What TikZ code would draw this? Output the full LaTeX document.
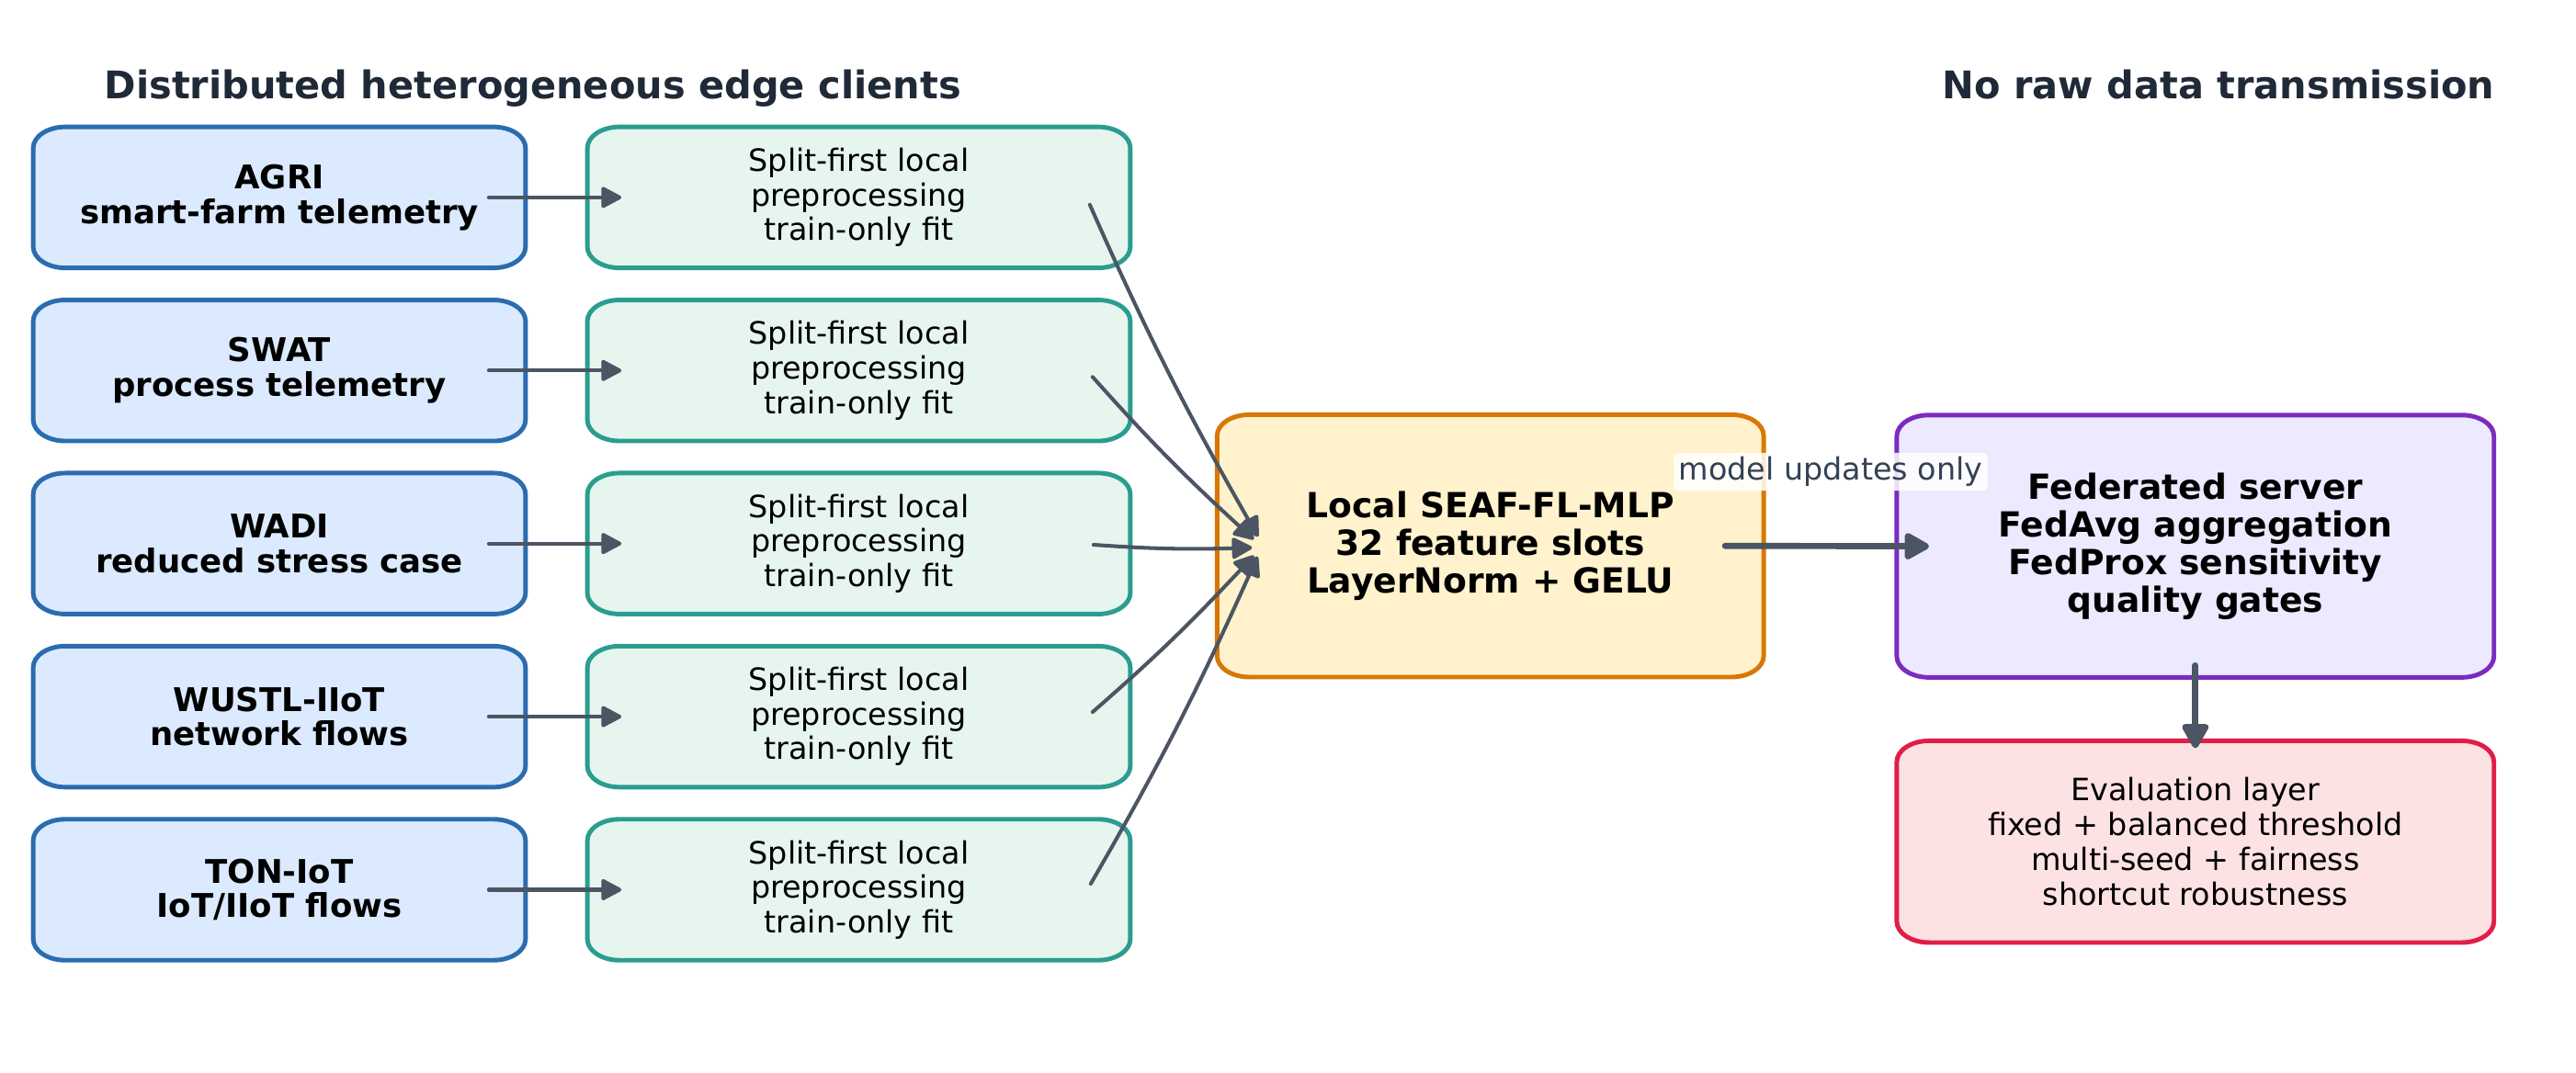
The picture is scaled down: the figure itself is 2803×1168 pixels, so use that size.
\documentclass[tikz,border=0pt]{standalone}
\usepackage{fontspec}
\setmainfont{DejaVu Sans}
\usetikzlibrary{arrows.meta,bending,backgrounds,calc}
\definecolor{blueD}{HTML}{2B6CB0}
\definecolor{blueF}{HTML}{DBEAFE}
\definecolor{greenD}{HTML}{2A9D8F}
\definecolor{greenF}{HTML}{E6F6EF}
\definecolor{orangeD}{HTML}{D97706}
\definecolor{orangeF}{HTML}{FFF2CC}
\definecolor{purpleD}{HTML}{7B2CBF}
\definecolor{purpleF}{HTML}{EDE9FE}
\definecolor{redD}{HTML}{E11D48}
\definecolor{redF}{HTML}{FDE2E4}
\definecolor{arrowc}{HTML}{4B5563}
\definecolor{titlec}{HTML}{1F2937}
\definecolor{labelc}{HTML}{334155}
\newcommand\ovalframe[3]{%
  \draw[line width=1.4pt, draw=#2, fill=#3]
   ([xshift=0.35cm]#1.north west) -- ([xshift=-0.35cm]#1.north east)
   arc[start angle=90, end angle=0, x radius=0.35cm, y radius=0.23cm]
   -- ([yshift=0.23cm]#1.south east)
   arc[start angle=0, end angle=-90, x radius=0.35cm, y radius=0.23cm]
   -- ([xshift=0.35cm]#1.south west)
   arc[start angle=-90, end angle=-180, x radius=0.35cm, y radius=0.23cm]
   -- ([yshift=-0.23cm]#1.north west)
   arc[start angle=180, end angle=90, x radius=0.35cm, y radius=0.23cm]
   -- cycle;}
\tikzset{
  boxbase/.style={inner sep=0pt, align=center, text=black},
  src/.style={boxbase, minimum width=5.34cm, minimum height=1.52cm,
    font=\fontsize{10.1}{10.7}\selectfont\bfseries},
  prep/.style={boxbase, minimum width=5.89cm, minimum height=1.52cm,
    font=\fontsize{9.5}{10.7}\selectfont},
  hubbox/.style={boxbase, minimum width=5.93cm, minimum height=2.84cm,
    font=\fontsize{10.7}{11.7}\selectfont\bfseries},
  srvbox/.style={boxbase, minimum width=6.48cm, minimum height=2.84cm,
    font=\fontsize{10.7}{11.6}\selectfont\bfseries},
  evalbox/.style={boxbase, minimum width=6.48cm, minimum height=2.18cm,
    font=\fontsize{9.5}{10.85}\selectfont},
  headline/.style={inner sep=0pt, text=titlec, font=\fontsize{11.8}{14}\selectfont\bfseries},
  arr/.style={draw=arrowc, line width=1.15pt, line cap=round,
    -{Triangle[length=6.9pt,width=7pt,round]}},
  bigarr/.style={draw=arrowc, line width=1.9pt, line cap=round,
    -{Triangle[length=8.6pt,width=9pt,round]}},
  note/.style={fill=white, fill opacity=0.85, text opacity=1, text=labelc,
    rounded corners=1pt, inner xsep=0.05cm, inner ysep=0pt, minimum height=0.41cm,
    font=\fontsize{9.5}{11}\selectfont}
}
\begin{document}
\begin{tikzpicture}[x=0.01cm, y=-0.01cm]
\useasboundingbox (0,0) rectangle (2803,1168);

\node[headline, anchor=base west] (t1) at (113,108) {Distributed heterogeneous edge clients};
\node[headline, anchor=base east] (t2) at (2715,108) {No raw data transmission};

\node[src] (b1) at (304,214.9) {AGRI\\smart-farm telemetry};
\node[src] (b2) at (304,403.3) {SWAT\\process telemetry};
\node[src] (b3) at (304,591.7) {WADI\\reduced stress case};
\node[src] (b4) at (304,780.1) {WUSTL-IIoT\\network flows};
\node[src] (b5) at (304,968.5) {TON-IoT\\IoT/IIoT flows};

\foreach \i/\y in {1/214.9,2/403.3,3/591.7,4/780.1,5/968.5}{
  \node[prep] (g\i) at (934.5,\y) {Split-first local\\preprocessing\\train-only fit};
}

\node[hubbox] (hub) at (1621.7,594.2) {Local SEAF-FL-MLP\\32 feature slots\\LayerNorm + GELU};
\node[srvbox] (srv) at (2388.8,594.6) {Federated server\\FedAvg aggregation\\FedProx sensitivity\\quality gates};
\node[evalbox] (ev) at (2388.8,916.2) {Evaluation layer\\fixed + balanced threshold\\multi-seed + fairness\\shortcut robustness};

\begin{pgfonlayer}{background}
  \fill[white] (0,0) rectangle (2803,1168);
  \foreach \i in {1,...,5}{\ovalframe{b\i}{blueD}{blueF}}
  \foreach \i in {1,...,5}{\ovalframe{g\i}{greenD}{greenF}}
  \ovalframe{hub}{orangeD}{orangeF}
  \ovalframe{srv}{purpleD}{purpleF}
  \ovalframe{ev}{redD}{redF}
\end{pgfonlayer}

\foreach \i in {1,...,5}{
  \draw[arr] ([xshift=-0.40cm]b\i.east) -- ([xshift=0.37cm]g\i.west);
}

\draw[arr] ($(g1.east)+(-44,8)$) to[bend right=3] ($(hub.west)+(44.6,-10)$);
\draw[arr] ($(g2.east)+(-41,7)$) to[bend right=3] ($(hub.west)+(40,-7)$);
\draw[arr] ($(g3.east)+(-40,1.3)$) to[bend right=3] ($(hub.west)+(38,2)$);
\draw[arr] ($(g4.east)+(-41,-5)$) to[bend right=3] ($(hub.west)+(40,10.5)$);
\draw[arr] ($(g5.east)+(-43,-6.5)$) to[bend right=3] ($(hub.west)+(44,11.5)$);

\draw[bigarr] ([xshift=-0.42cm]hub.east) -- ([xshift=0.35cm]srv.west);
\draw[bigarr] ([yshift=0.13cm]srv.south) -- ([yshift=-0.08cm]ev.north);

\node[note] (lbl) at (1992,513.5) {model updates only};
\end{tikzpicture}
\end{document}
